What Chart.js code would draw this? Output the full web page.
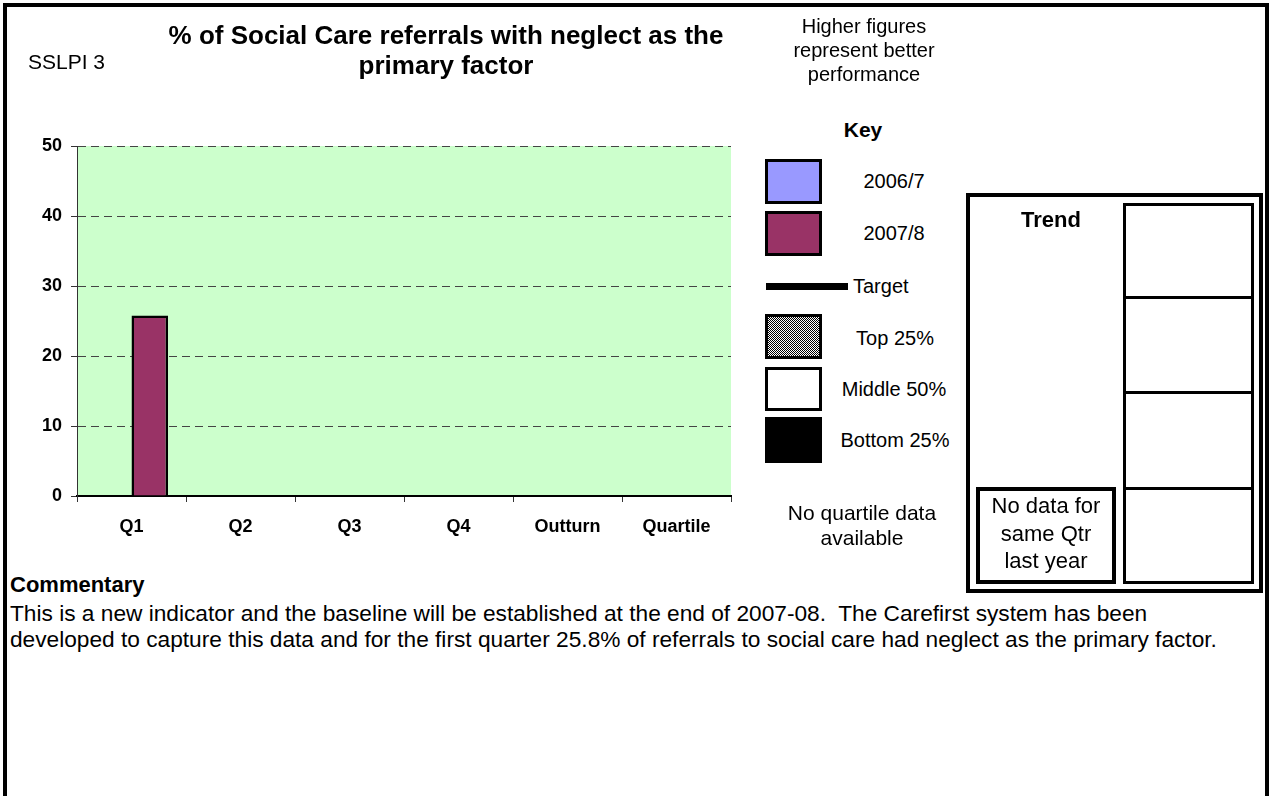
<!DOCTYPE html>
<html>
<head>
<meta charset="utf-8">
<title>SSLPI 3</title>
<script src="https://cdn.jsdelivr.net/npm/chart.js@4"></script>
<style>
  html, body { margin: 0; padding: 0; width: 1270px; height: 796px; overflow: hidden; background: #fff; }
  body { position: relative; font-family: "Liberation Sans", Arial, sans-serif; color: #000; }
  .frame { position: absolute; left: 3px; top: 3px; width: 1266px; height: 900px; border: 4px solid #000; box-sizing: border-box; }
  .t { position: absolute; white-space: pre; }
  .c { text-align: center; }
  .b { font-weight: bold; }
  .box { position: absolute; box-sizing: border-box; border: 3px solid #000; }
  #chartWrap { position: absolute; left: 0; top: 0; width: 760px; height: 560px; }
</style>
</head>
<body>
<div class="frame"></div>

<div id="chartWrap"><canvas id="chart" width="760" height="560"></canvas></div>

<div class="t" style="left:28px;top:50px;font-size:21px;line-height:24px;">SSLPI 3</div>
<div class="t c b" style="left:146px;top:20px;width:600px;font-size:26px;line-height:30px;">% of Social Care referrals with neglect as the
primary factor</div>

<div class="t c" style="left:764px;top:14px;width:200px;font-size:20px;line-height:24px;">Higher figures
represent better
performance</div>

<div class="t c b" style="left:763px;top:118px;width:200px;font-size:21px;line-height:24px;">Key</div>

<div id="key"></div>

<div class="t c" style="left:742px;top:500px;width:240px;font-size:21px;line-height:25px;">No quartile data
available</div>

<!-- trend panel -->
<div class="box" style="left:966px;top:193px;width:297px;height:400px;border-width:4px;"></div>
<div class="t c b" style="left:951px;top:208px;width:200px;font-size:22px;line-height:24px;">Trend</div>
<div class="box" style="left:1123px;top:203px;width:131px;height:381px;border-width:3.5px;"></div>
<div style="position:absolute;left:1123px;top:296px;width:131px;height:3px;background:#000;"></div>
<div style="position:absolute;left:1123px;top:391px;width:131px;height:3px;background:#000;"></div>
<div style="position:absolute;left:1123px;top:487px;width:131px;height:3px;background:#000;"></div>
<div class="box" style="left:976px;top:487px;width:140px;height:97px;border-width:4px;"></div>
<div class="t c" style="left:976px;top:492px;width:140px;font-size:22px;line-height:27.5px;">No data for
same Qtr
last year</div>

<!-- commentary -->
<div class="t b" style="left:10px;top:571px;font-size:22px;line-height:28px;">Commentary</div>
<div class="t" style="left:10px;top:600px;font-size:22.7px;line-height:26px;">This is a new indicator and the baseline will be established at the end of 2007-08.  The Carefirst system has been
developed to capture this data and for the first quarter 25.8% of referrals to social care had neglect as the primary factor.</div>

<script>
// quarterly figures, % of referrals with neglect as the primary factor
const categories = ['Q1', 'Q2', 'Q3', 'Q4', 'Outturn', 'Quartile'];
const values2006 = [null, null, null, null, null, null];
const values2007 = [25.8, null, null, null, null, null];
const yTickValues = [0, 10, 20, 30, 40, 50];
const seriesNames = ['2006/7', '2007/8'];
const keyNames = ['2006/7', '2007/8', 'Target', 'Top 25%', 'Middle 50%', 'Bottom 25%'];

const FONT = '"Liberation Sans", Arial, sans-serif';
const COL_2006 = '#9999FF';
const COL_2007 = '#993366';

// key panel on the right of the plot
(function buildKey() {
  const key = document.getElementById('key');
  const rows = [
    { kind: 'swatch', fill: COL_2006, top: 159, h: 45, cap: 181, cx: 894 },
    { kind: 'swatch', fill: COL_2007, top: 211, h: 45, cap: 233, cx: 894 },
    { kind: 'line', top: 283, cap: 286, left: 863 },
    { kind: 'swatch', fill: 'repeating-conic-gradient(#000 0 25%, #fff 0 50%) 0 0 / 2px 2px', top: 314, h: 45, cap: 338, cx: 895 },
    { kind: 'swatch', fill: '#fff', top: 367, h: 44, cap: 389, cx: 894 },
    { kind: 'swatch', fill: '#000', top: 417, h: 46, cap: 440, cx: 895 }
  ];
  rows.forEach((r, i) => {
    if (r.kind === 'swatch') {
      const s = document.createElement('div');
      s.className = 'box';
      s.style.cssText = `left:765px;top:${r.top}px;width:57px;height:${r.h}px;background:${r.fill};`;
      key.appendChild(s);
    } else {
      const l = document.createElement('div');
      l.style.cssText = `position:absolute;left:766px;top:${r.top}px;width:82px;height:7px;background:#000;`;
      key.appendChild(l);
    }
    const t = document.createElement('div');
    t.className = 't';
    t.textContent = keyNames[i];
    if (r.kind === 'line') {
      t.style.cssText = `left:${r.left - 10}px;top:${r.cap - 12}px;font-size:20px;line-height:24px;`;
    } else {
      t.style.cssText = `left:${r.cx - 100}px;top:${r.cap - 12}px;width:200px;text-align:center;font-size:20px;line-height:24px;`;
    }
    key.appendChild(t);
  });
})();

// light green plot background
const plotBackground = {
  id: 'plotBackground',
  beforeDraw(chart) {
    const { ctx, chartArea: a } = chart;
    ctx.save();
    ctx.fillStyle = '#CCFFCC';
    ctx.fillRect(a.left, a.top, a.right - a.left, a.bottom - a.top);
    ctx.restore();
  }
};

new Chart(document.getElementById('chart'), {
  type: 'bar',
  data: {
    labels: categories,
    datasets: [
      { label: seriesNames[0], data: values2006, backgroundColor: COL_2006, borderColor: '#000', borderWidth: 2.5 },
      { label: seriesNames[1], data: values2007, backgroundColor: COL_2007, borderColor: '#000', borderWidth: 2.5 }
    ]
  },
  options: {
    responsive: false,
    animation: false,
    devicePixelRatio: 1,
    layout: { padding: { top: 146, left: 0, right: 29, bottom: 0 } },
    datasets: { bar: { categoryPercentage: 0.67, barPercentage: 1.0 } },
    plugins: { legend: { display: false }, tooltip: { enabled: false } },
    scales: {
      x: {
        grid: { offset: true, drawOnChartArea: false, tickLength: 6, color: '#333', tickColor: '#333', lineWidth: 1 },
        border: { color: '#000', width: 2 },
        ticks: { color: '#000', font: { family: FONT, size: 18, weight: 'bold' }, padding: 14, maxRotation: 0, autoSkip: false },
        afterFit(scale) { scale.height = 64; }
      },
      y: {
        min: yTickValues[0],
        max: yTickValues[yTickValues.length - 1],
        afterBuildTicks(scale) { scale.ticks = yTickValues.map(v => ({ value: v })); },
        ticks: { color: '#000', font: { family: FONT, size: 18, weight: 'bold' }, padding: 9 },
        grid: {
          color: c => (c.tick && c.tick.value === 0) ? 'rgba(0,0,0,0)' : '#444',
          tickColor: '#333',
          tickLength: 6,
          lineWidth: 1
        },
        border: { color: '#333', width: 1, dash: [8, 5] },
        afterFit(scale) { scale.width = 77; }
      }
    }
  },
  plugins: [plotBackground]
});
</script>
</body>
</html>
